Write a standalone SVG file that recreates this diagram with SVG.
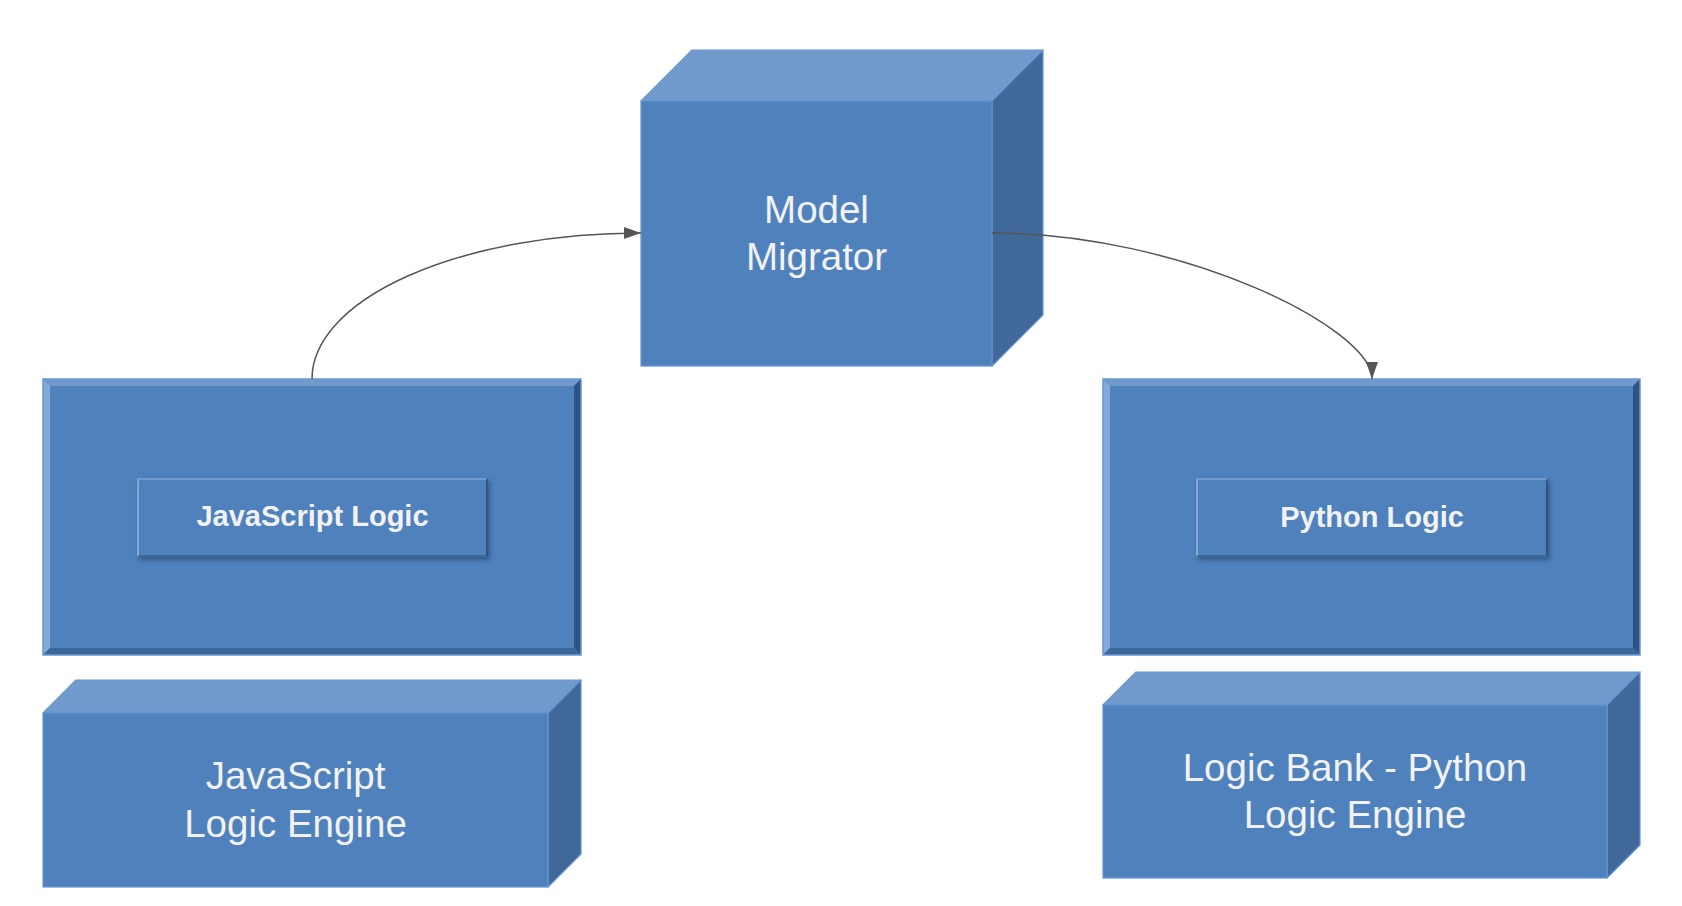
<svg xmlns="http://www.w3.org/2000/svg" width="1682" height="906" viewBox="0 0 1682 906">
  <style>
    .front { fill: #4F81BD; stroke: #6495D2; stroke-width: 1.2; }
    .top { fill: #729BCD; stroke: #6495D2; stroke-width: 1.2; stroke-linejoin: round; }
    .side { fill: #406899; stroke: #6495D2; stroke-width: 1.2; stroke-linejoin: round; }
    .bv-top { fill: #709ACC; }
    .bv-left { fill: #84A8D8; }
    .bv-right { fill: #2F5283; }
    .bv-bottom { fill: #3D6699; }
    .bv-face { fill: #4F81BD; }
    .bv-outline { fill: none; stroke: #6897D3; stroke-width: 1.5; }
    .label { font-family: "Liberation Sans", Arial, sans-serif; fill: #F2F2F2; text-anchor: middle; }
    .big { font-size: 38.5px; }
    .bold { font-size: 29px; font-weight: bold; }
    .conn { fill: none; stroke: #555555; stroke-width: 1.5; }
  </style>
  <defs>
    <marker id="arrow" viewBox="0 0 17 12" refX="17" refY="6" markerWidth="17" markerHeight="12" markerUnits="userSpaceOnUse" orient="auto">
      <path d="M0,0 L17,6 L0,12 Z" fill="#555555"/>
    </marker>
    <filter id="shadow" x="-10%" y="-20%" width="125%" height="150%">
      <feDropShadow dx="2" dy="3" stdDeviation="2" flood-color="#1F3A5F" flood-opacity="0.55"/>
    </filter>
  </defs>
  <rect width="1682" height="906" fill="#FFFFFF"/>

  <g id="model-migrator">
    <polygon class="top" points="641,101 692,50 1043,50 992,101"/>
    <polygon class="side" points="992,101 1043,50 1043,315 992,366"/>
    <rect class="front" x="641" y="101" width="351" height="265"/>
    <text class="label big" x="816.5" y="223">Model</text>
    <text class="label big" x="816.5" y="270">Migrator</text>
  </g>

  <g id="js-logic-container">
    <rect class="bv-face" x="43" y="379" width="538" height="276"/>
    <polygon class="bv-top" points="43,379 581,379 574,386 50,386"/>
    <polygon class="bv-left" points="43,379 50,386 50,648 43,655"/>
    <polygon class="bv-right" points="581,379 574,386 574,648 581,655"/>
    <polygon class="bv-bottom" points="43,655 50,648 574,648 581,655"/>
    <rect class="bv-outline" x="43" y="379" width="538" height="276"/>
  </g>
  <g id="js-logic">
    <g filter="url(#shadow)">
      <rect class="bv-face" x="137" y="478" width="351" height="79"/>
      <polygon class="bv-top" points="137,478 488,478 486,480 139,480"/>
      <polygon class="bv-left" points="137,478 139,480 139,555 137,557"/>
      <polygon class="bv-right" points="488,478 486,480 486,555 488,557"/>
      <polygon class="bv-bottom" points="137,557 139,555 486,555 488,557"/>
    </g>
    <text class="label bold" x="312.5" y="526">JavaScript Logic</text>
  </g>

  <g id="python-logic-container">
    <rect class="bv-face" x="1103" y="379" width="537" height="276"/>
    <polygon class="bv-top" points="1103,379 1640,379 1633,386 1110,386"/>
    <polygon class="bv-left" points="1103,379 1110,386 1110,648 1103,655"/>
    <polygon class="bv-right" points="1640,379 1633,386 1633,648 1640,655"/>
    <polygon class="bv-bottom" points="1103,655 1110,648 1633,648 1640,655"/>
    <rect class="bv-outline" x="1103" y="379" width="537" height="276"/>
  </g>
  <g id="python-logic">
    <g filter="url(#shadow)">
      <rect class="bv-face" x="1196" y="478" width="352" height="79"/>
      <polygon class="bv-top" points="1196,478 1548,478 1546,480 1198,480"/>
      <polygon class="bv-left" points="1196,478 1198,480 1198,555 1196,557"/>
      <polygon class="bv-right" points="1548,478 1546,480 1546,555 1548,557"/>
      <polygon class="bv-bottom" points="1196,557 1198,555 1546,555 1548,557"/>
    </g>
    <text class="label bold" x="1372" y="527">Python Logic</text>
  </g>

  <g id="js-engine">
    <polygon class="top" points="43,713 76,680 581,680 548,713"/>
    <polygon class="side" points="548,713 581,680 581,854 548,887"/>
    <rect class="front" x="43" y="713" width="505" height="174"/>
    <text class="label big" x="295.5" y="789">JavaScript</text>
    <text class="label big" x="295.5" y="837">Logic Engine</text>
  </g>

  <g id="logic-bank">
    <polygon class="top" points="1103,705 1136,672 1640,672 1607,705"/>
    <polygon class="side" points="1607,705 1640,672 1640,845 1607,878"/>
    <rect class="front" x="1103" y="705" width="504" height="173"/>
    <text class="label big" x="1355" y="781">Logic Bank - Python</text>
    <text class="label big" x="1355" y="828">Logic Engine</text>
  </g>

  <g id="connectors">
    <path class="conn" d="M312,379 A329,146 0 0 1 641,233" marker-end="url(#arrow)"/>
    <path class="conn" d="M992,233 C1182,233 1372,328 1372,379" marker-end="url(#arrow)"/>
  </g>
</svg>
